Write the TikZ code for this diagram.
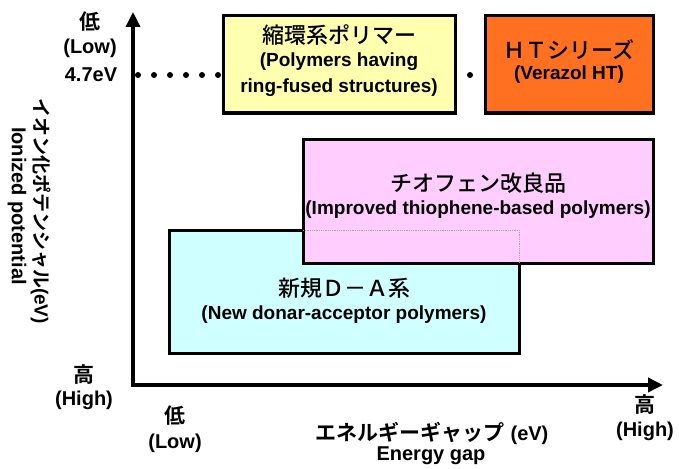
\documentclass[tikz,border=0pt]{standalone}
\usepackage{fontspec}
\setmainfont{Liberation Sans}
\newfontfamily\cjk{Noto Sans CJK JP}[BoldFont={Noto Sans CJK JP Bold}]
\IfFontExistsTF{Noto Sans CJK JP Medium}{\newfontfamily\cjkm{Noto Sans CJK JP Medium}}{\newfontfamily\cjkm{Noto Sans CJK JP}}
\usetikzlibrary{arrows.meta}
\definecolor{yel}{RGB}{255,255,176}
\definecolor{org}{RGB}{255,112,32}
\definecolor{pnk}{RGB}{255,206,255}
\definecolor{cyn}{RGB}{208,255,255}
\tikzset{
  catbox/.style={draw=black, line width=3pt, inner sep=0pt, outer sep=0pt},
  axisline/.style={line width=3.5pt, {Triangle[length=15pt,width=14pt]}-{Triangle[length=15pt,width=14pt]}},
  ttl/.style={inner sep=0pt, font=\cjkm\fontsize{22}{26}\selectfont},
  sub/.style={inner sep=0pt, font=\bfseries\fontsize{19}{26}\selectfont},
  axlab/.style={inner sep=0pt, font=\bfseries\fontsize{20}{24}\selectfont},
  axcjk/.style={inner sep=0pt, font=\cjk\bfseries\fontsize{21}{24}\selectfont},
  dots/.style={line width=6pt, line cap=round, dash pattern=on 0pt off 16pt},
}
\begin{document}
\begin{tikzpicture}[x=1pt,y=-1pt]
\useasboundingbox (0,0) rectangle (679,468);
% axes
\coordinate (ytip) at (133,12);
\coordinate (origin) at (133,385);
\coordinate (xtip) at (663,385);
\draw[axisline] (ytip) -- (origin) -- (xtip);
% dotted level line
\coordinate (d1) at (138,75);
\coordinate (d2) at (221,75);
\coordinate (d3) at (454,75);
\coordinate (d4) at (472,75);
\draw[dots] (d1) -- (d2);
\draw[dots] (d3) -- (d4);
% boxes
\node[catbox, fill=yel, minimum width=232pt, minimum height=97pt] (ring) at (339,64.5) {};
\node[catbox, fill=org, minimum width=168pt, minimum height=97pt] (ht) at (569,64.5) {};
\node[catbox, fill=cyn, minimum width=350pt, minimum height=123pt] (da) at (344,291.5) {};
\node[catbox, fill=pnk, minimum width=350pt, minimum height=124pt] (thio) at (478,201) {};
\draw[gray!70, densely dotted, line width=0.8pt] (thio.west |- da.north) -- (da.north east) -- (da.east |- thio.south);
% box texts
\node[ttl] (ringt) at (339,35) {縮環系ポリマー};
\node[sub] (rings1) at (339,62) {(Polymers having};
\node[sub] (rings2) at (339,88) {ring-fused structures)};
\node[ttl] (htt) at (569,50) {ＨＴシリーズ};
\node[sub] (hts) at (569,75) {(Verazol HT)};
\node[ttl] (thiot) at (478,183) {チオフェン改良品};
\node[sub] (thios) at (478,210) {(Improved thiophene-based polymers)};
\node[ttl] (dat) at (344,288) {新規Ｄ－Ａ系};
\node[sub] (das) at (344,315) {(New donar-acceptor polymers)};
% axis labels
\node[axcjk] (ylow) at (90,22) {低};
\node[axlab] (ylowe) at (90,48) {(Low)};
\node[axlab] (lvl) at (91,75) {4.7eV};
\node[axcjk] (yhigh) at (84,375) {高};
\node[axlab] (yhighe) at (84,400) {(High)};
\node[axcjk] (xlow) at (175,416) {低};
\node[axlab] (xlowe) at (175,443) {(Low)};
\node[axcjk] (xhigh) at (645,405) {高};
\node[axlab] (xhighe) at (645,431) {(High)};
\node[inner sep=0pt] (xt) at (432,433) {{\cjk\bfseries\fontsize{21}{24}\selectfont エネルギーギャップ}\hspace{6pt}{\bfseries\fontsize{20}{24}\selectfont(eV)}};
\node[axlab] (xte) at (431,456) {Energy gap};
\node[inner sep=0pt, rotate=-90] (yt) at (41,211) {{\cjk\bfseries\fontsize{19}{24}\selectfont イオン化ポテンシャル}{\bfseries\fontsize{19}{24}\selectfont(eV)}};
\node[axlab, rotate=-90] (yte) at (17,206) {Ionized potential};
\end{tikzpicture}
\end{document}
